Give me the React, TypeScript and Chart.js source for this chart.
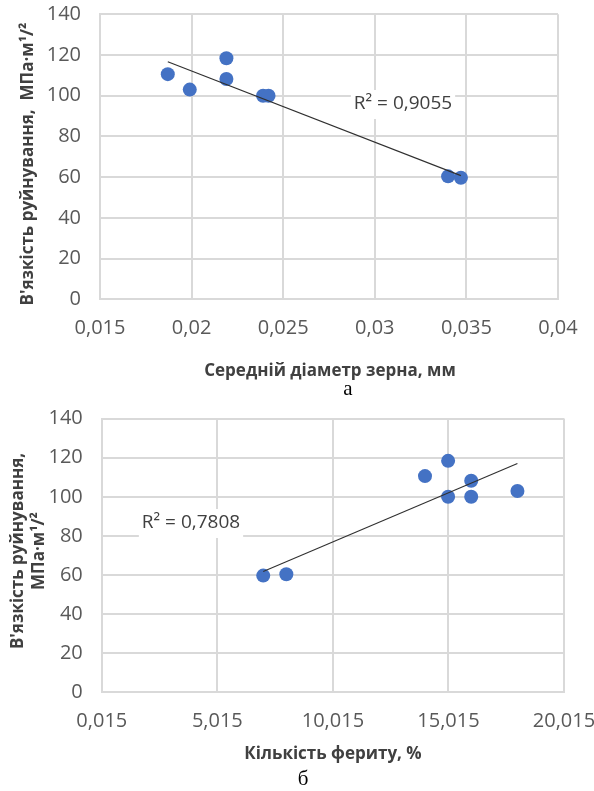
import { useEffect, useRef } from 'react';
import { Chart, registerables } from 'chart.js';

Chart.register(...registerables);

// ---- data ----
const toughness = [110.6, 103, 118.4, 108.2, 100, 100, 60.4, 59.7];
const grainSize = [0.0187, 0.0199, 0.0219, 0.0219, 0.0239, 0.0242, 0.034, 0.0347];
const ferrite = [14, 18, 15, 16, 15, 16, 8, 7];

const toughnessTicks = [0, 20, 40, 60, 80, 100, 120, 140];
const grainTicks = [0.015, 0.02, 0.025, 0.03, 0.035, 0.04];
const grainTickLabels = ['0,015', '0,02', '0,025', '0,03', '0,035', '0,04'];
const ferriteTicks = [0.015, 5.015, 10.015, 15.015, 20.015];
const ferriteTickLabels = ['0,015', '5,015', '10,015', '15,015', '20,015'];

const r2LabelA = 'R² = 0,9055';
const r2LabelB = 'R² = 0,7808';
const yTitleA = ["В'язкість руйнування,  МПа·м¹/²"];
const yTitleB = ["В'язкість руйнування,", 'МПа·м¹/²'];
const xTitleA = 'Середній діаметр зерна, мм';
const xTitleB = 'Кількість фериту, %';
const captionA = 'а';
const captionB = 'б';

// ---- helpers ----
function trend(xs: number[], ys: number[]) {
  const n = xs.length;
  const mx = xs.reduce((a, b) => a + b, 0) / n;
  const my = ys.reduce((a, b) => a + b, 0) / n;
  let sxy = 0, sxx = 0;
  for (let i = 0; i < n; i++) {
    sxy += (xs[i] - mx) * (ys[i] - my);
    sxx += (xs[i] - mx) * (xs[i] - mx);
  }
  const b = sxy / sxx;
  const a = my - b * mx;
  const x0 = Math.min(...xs);
  const x1 = Math.max(...xs);
  return [{ x: x0, y: a + b * x0 }, { x: x1, y: a + b * x1 }];
}

const FONT = "'Open Sans', 'Noto Sans', sans-serif";
const GRID = '#d9d9d9';
const TICK_COLOR = '#595959';
const TITLE_COLOR = '#404040';

type TextItem = {
  text: string[];
  x: number;
  y: number;
  font: string;
  color: string;
  rotate?: boolean;
  lineGap?: number;
  bg?: boolean;
};

function makeChart(
  canvas: HTMLCanvasElement,
  p: {
    H: number;
    left: number;
    right: number;
    top: number;
    bottom: number;
    xs: number[];
    xMin: number;
    xMax: number;
    xTicks: number[];
    xLabels: string[];
    under: TextItem[];
    over: TextItem[];
  }
) {
  const drawItems = (ctx: CanvasRenderingContext2D, items: TextItem[]) => {
    for (const it of items) {
      ctx.save();
      ctx.font = it.font;
      ctx.fillStyle = it.color;
      ctx.textAlign = 'center';
      ctx.textBaseline = 'middle';
      ctx.translate(it.x, it.y);
      if (it.rotate) ctx.rotate(-Math.PI / 2);
      const gap = it.lineGap || 0;
      const n = it.text.length;
      it.text.forEach((t, i) => {
        const dy = (i - (n - 1) / 2) * gap;
        if (it.bg) {
          const w = ctx.measureText(t).width;
          ctx.save();
          ctx.fillStyle = '#ffffff';
          ctx.fillRect(-w / 2 - 3, dy - 14, w + 6, 29);
          ctx.restore();
        }
        ctx.fillText(t, 0, dy);
      });
      ctx.restore();
    }
  };

  const textPlugin = {
    id: 'texts',
    beforeDatasetsDraw(chart: any) {
      drawItems(chart.ctx, p.under);
    },
    afterDraw(chart: any) {
      drawItems(chart.ctx, p.over);
    },
  };

  const points = p.xs.map((x, i) => ({ x, y: toughness[i] }));

  return new Chart(canvas, {
    type: 'scatter',
    data: {
      datasets: [
        {
          type: 'line',
          data: trend(p.xs, toughness),
          borderColor: '#303030',
          borderWidth: 1.1,
          pointRadius: 0,
          fill: false,
          order: 0,
        } as any,
        {
          data: points,
          backgroundColor: '#4472C4',
          borderWidth: 0,
          pointRadius: 7,
          pointHoverRadius: 7,
          order: 1,
        },
      ],
    },
    options: {
      animation: false,
      responsive: false,
      events: [],
      layout: { autoPadding: false, padding: { left: 0, top: p.top, right: 594 - p.right, bottom: 0 } },
      plugins: { legend: { display: false }, tooltip: { enabled: false } },
      scales: {
        x: {
          type: 'linear',
          min: p.xMin,
          max: p.xMax,
          afterBuildTicks: (s: any) => {
            s.ticks = p.xTicks.map((v) => ({ value: v }));
          },
          afterFit: (s: any) => {
            s.height = p.H - p.bottom;
            s.paddingLeft = 0;
            s.paddingRight = 0;
          },
          grid: { color: GRID, lineWidth: 2, drawTicks: false },
          border: { color: GRID, width: 2 },
          ticks: {
            autoSkip: false,
            maxRotation: 0,
            padding: 17,
            color: TICK_COLOR,
            font: { family: FONT, size: 20 },
            callback: (_v: any, i: number) => p.xLabels[i],
          },
        },
        y: {
          type: 'linear',
          min: 0,
          max: 140,
          afterBuildTicks: (s: any) => {
            s.ticks = toughnessTicks.map((v) => ({ value: v }));
          },
          afterFit: (s: any) => {
            s.width = p.left;
            s.paddingTop = 0;
            s.paddingBottom = 0;
          },
          grid: { color: GRID, lineWidth: 2, drawTicks: false },
          border: { color: GRID, width: 2 },
          ticks: {
            padding: 19,
            color: TICK_COLOR,
            font: { family: FONT, size: 20 },
            callback: (v: any) => String(v),
          },
        },
      },
    },
    plugins: [textPlugin],
  } as any);
}

const TITLE_FONT = `bold 17px ${FONT}`;
const LABEL_FONT = `19px ${FONT}`;
const CAPTION_FONT = "21px 'Liberation Serif', 'Times New Roman', serif";

export default function App() {
  const refA = useRef<HTMLCanvasElement>(null);
  const refB = useRef<HTMLCanvasElement>(null);

  useEffect(() => {
    const a = makeChart(refA.current!, {
      H: 400,
      left: 100,
      right: 558,
      top: 14.3,
      bottom: 299.3,
      xs: grainSize,
      xMin: grainTicks[0],
      xMax: grainTicks[grainTicks.length - 1],
      xTicks: grainTicks,
      xLabels: grainTickLabels,
      under: [{ text: [r2LabelA], x: 403, y: 104, font: LABEL_FONT, color: TITLE_COLOR, bg: true }],
      over: [
        { text: yTitleA, x: 28, y: 164, font: TITLE_FONT, color: TITLE_COLOR, rotate: true },
        { text: [xTitleA], x: 330, y: 371, font: TITLE_FONT, color: TITLE_COLOR },
        { text: [captionA], x: 348, y: 389, font: CAPTION_FONT, color: '#000000' },
      ],
    });
    const b = makeChart(refB.current!, {
      H: 391,
      left: 101.8,
      right: 564,
      top: 18.6,
      bottom: 292.3,
      xs: ferrite,
      xMin: ferriteTicks[0],
      xMax: ferriteTicks[ferriteTicks.length - 1],
      xTicks: ferriteTicks,
      xLabels: ferriteTickLabels,
      under: [{ text: [r2LabelB], x: 191, y: 123, font: LABEL_FONT, color: TITLE_COLOR, bg: true }],
      over: [
        { text: yTitleB, x: 29, y: 151, font: TITLE_FONT, color: TITLE_COLOR, rotate: true, lineGap: 21 },
        { text: [xTitleB], x: 333, y: 354, font: TITLE_FONT, color: TITLE_COLOR },
        { text: [captionB], x: 303, y: 379, font: CAPTION_FONT, color: '#000000' },
      ],
    });
    return () => {
      a.destroy();
      b.destroy();
    };
  }, []);

  return (
    <div style={{ position: 'absolute', left: 0, top: 0, width: 594, height: 791, background: '#ffffff' }}>
      <canvas ref={refA} width={594} height={400} style={{ position: 'absolute', left: 0, top: 0, display: 'block' }} />
      <canvas ref={refB} width={594} height={391} style={{ position: 'absolute', left: 0, top: 400, display: 'block' }} />
    </div>
  );
}
